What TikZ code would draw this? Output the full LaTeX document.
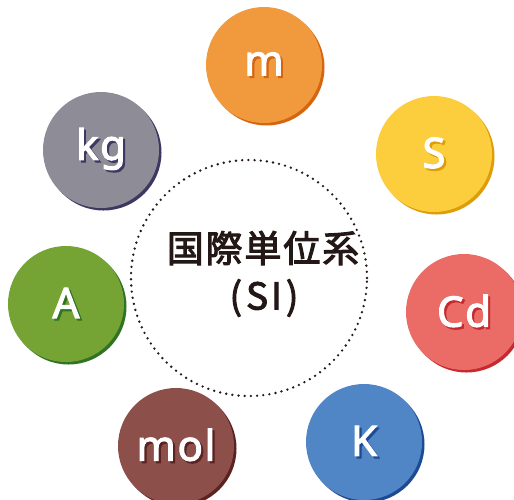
\documentclass[tikz,border=0pt]{standalone}
\usepackage{fontspec}
\usetikzlibrary{shadows}
\newfontfamily\cjkfont{Noto Sans CJK JP}[FakeBold=2.6, LetterSpace=5]
\newfontfamily\unitfont{Noto Sans}[FakeBold=2.6, LetterSpace=4]
\definecolor{mFill}{HTML}{F0993D}\definecolor{mDark}{HTML}{D5650F}
\definecolor{sFill}{HTML}{FCCD3C}\definecolor{sDark}{HTML}{DE9C06}
\definecolor{cdFill}{HTML}{EB6B66}\definecolor{cdDark}{HTML}{C62A2F}
\definecolor{kFill}{HTML}{5086C6}\definecolor{kDark}{HTML}{1D4B93}
\definecolor{molFill}{HTML}{8D4F4A}\definecolor{molDark}{HTML}{5A2220}
\definecolor{aFill}{HTML}{76A434}\definecolor{aDark}{HTML}{2F7424}
\definecolor{kgFill}{HTML}{8E8C96}\definecolor{kgDark}{HTML}{3C3862}
\definecolor{ink}{HTML}{231815}
\newcommand\shtext[2]{\leavevmode\rlap{\kern2.2pt\raisebox{-2.2pt}{\textcolor{#1}{#2}}}\textcolor{white}{#2}}
\tikzset{
  unit/.style={circle, minimum size=116pt, inner sep=0pt, fill=#1Fill,
    drop shadow={shadow xshift=2.5pt, shadow yshift=-2.5pt, opacity=1, fill=#1Dark, shadow scale=1},
    font=\unitfont\fontsize{42}{42}\selectfont},
  ring/.style={draw=ink, line width=2.6pt, line cap=round, dash pattern=on 0pt off 6.2pt},
  title/.style={font=\cjkfont\fontsize{37}{37}\selectfont, text=ink, inner sep=0pt}
}
\begin{document}
\begin{tikzpicture}[x=1pt,y=-1pt]
\useasboundingbox (0,0) rectangle (514,499);
\node[ring, circle, minimum size=236pt, inner sep=0pt] (ring) at (249,278) {};
\node[unit=m] (m) at (264,65) {\shtext{mDark}{m}};
\node[unit=s] (s) at (434,154) {\shtext{sDark}{S}};
\node[unit=cd] (cd) at (464,312) {\shtext{cdDark}{Cd}};
\node[unit=k] (k) at (364,442) {\shtext{kDark}{K}};
\node[unit=mol] (mol) at (176,446) {\shtext{molDark}{mol}};
\node[unit=a] (a) at (66,304) {\shtext{aDark}{A}};
\node[unit=kg] (kg) at (101,150) {\shtext{kgDark}{kg}};
\node[title] (t1) at (263,248) {国際単位系};
\node[title] (t2) at (264,298) {(\kern4pt S\kern3pt I\kern4pt)};
\end{tikzpicture}
\end{document}
